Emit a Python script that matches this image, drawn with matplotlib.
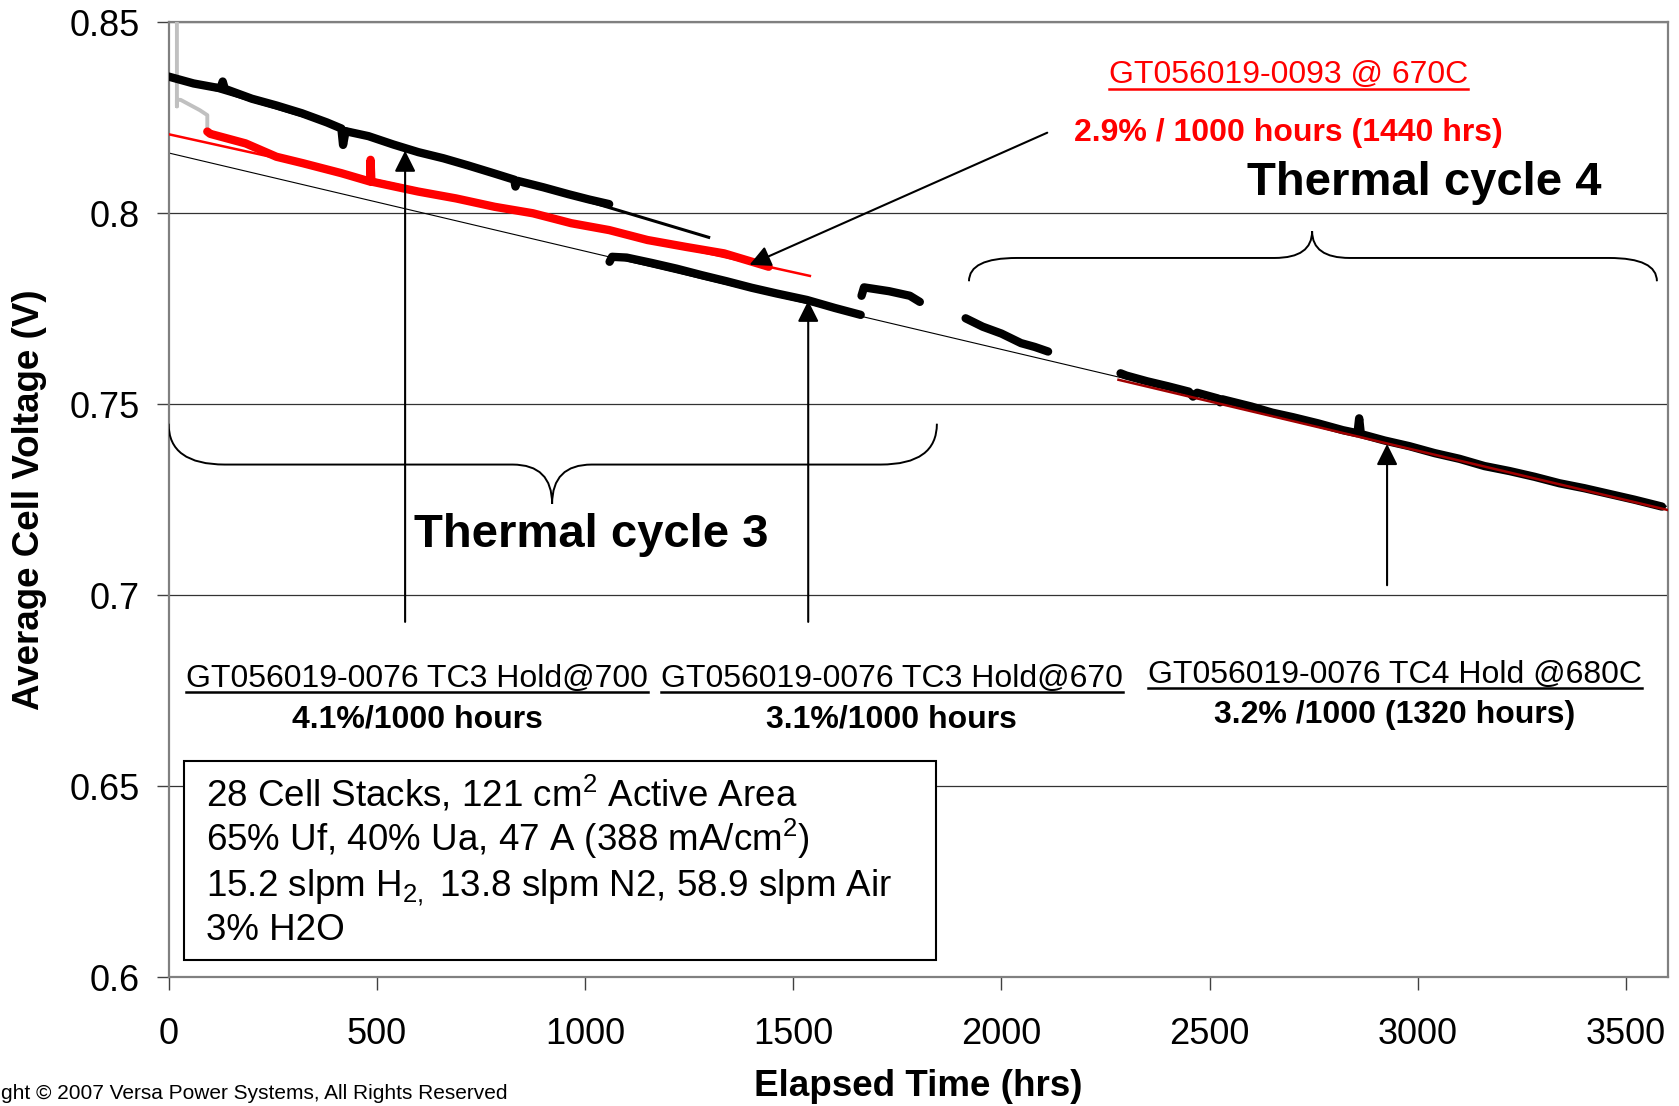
import matplotlib
matplotlib.use('Agg')
import matplotlib.pyplot as plt
from matplotlib.path import Path
from matplotlib.patches import PathPatch, Rectangle
from matplotlib.lines import Line2D

plt.rcParams['font.family'] = ['Liberation Sans', 'DejaVu Sans']
plt.rcParams['mathtext.fontset'] = 'custom'
plt.rcParams['mathtext.rm'] = 'Liberation Sans'
plt.rcParams['mathtext.it'] = 'Liberation Sans:italic'
plt.rcParams['mathtext.bf'] = 'Liberation Sans:bold'

# ---------------- data (hours, average cell voltage V) ----------------
tc3_700_t = [0, 20, 60, 110, 125, 130, 135, 200, 260, 320, 380, 415, 419, 425, 480, 540,
             600, 660, 720, 780, 830, 833, 838, 900, 960, 1010, 1058]
tc3_700_v = [0.8358, 0.8352, 0.8340, 0.8330, 0.8328, 0.8345, 0.8326, 0.8300, 0.8282, 0.8262,
             0.8238, 0.8222, 0.8179, 0.8215, 0.8202, 0.8180, 0.8160, 0.8144, 0.8125, 0.8105,
             0.8088, 0.8070, 0.8085, 0.8068, 0.8050, 0.8036, 0.8024]

tc3_670_t = [1059, 1065, 1100, 1160, 1220, 1280, 1340, 1400, 1460, 1533, 1600, 1662]
tc3_670_v = [0.7873, 0.7886, 0.7884, 0.7870, 0.7855, 0.7838, 0.7822, 0.7805, 0.7790, 0.7773,
             0.7752, 0.7734]

seg_c_t = [1664, 1670, 1730, 1780, 1804]
seg_c_v = [0.7784, 0.7806, 0.7796, 0.7784, 0.7768]

seg_d_t = [1914, 1955, 2000, 2047, 2080, 2112]
seg_d_v = [0.7725, 0.7703, 0.7685, 0.7660, 0.7650, 0.7638]

tc4_t = [2286, 2300, 2350, 2400, 2450, 2460, 2470, 2520, 2525, 2530, 2600, 2650, 2700, 2760,
         2820, 2855, 2859, 2863, 2920, 2980, 3040, 3100, 3160, 3220, 3280, 3340, 3400, 3460,
         3520, 3586]
tc4_v = [0.7581, 0.7575, 0.7560, 0.7547, 0.7533, 0.7520, 0.7530, 0.7515, 0.7505, 0.7513,
         0.7494, 0.7478, 0.7466, 0.7450, 0.7432, 0.7424, 0.7463, 0.7422, 0.7405, 0.7390,
         0.7372, 0.7357, 0.7338, 0.7325, 0.7310, 0.7293, 0.7280, 0.7265, 0.7250, 0.7232]

red_t = [93, 100, 185, 259, 323, 415, 484, 485, 487, 599, 690, 783, 875, 967, 1058, 1150,
         1242, 1334, 1441]
red_v = [0.8214, 0.8208, 0.8183, 0.8148, 0.8131, 0.8105, 0.8083, 0.8140, 0.8083, 0.8057,
         0.8039, 0.8017, 0.8000, 0.7974, 0.7956, 0.7930, 0.7912, 0.7895, 0.7860]

gray_t = [20, 20, 20, 29, 75, 93, 93]
gray_v = [0.852, 0.8280, 0.8297, 0.8297, 0.8270, 0.8257, 0.8214]

fit_a_t = [0, 1297]
fit_a_v = [0.8360, 0.7937]
fit_red_t = [0, 1540]
fit_red_v = [0.8207, 0.7836]
fit_all_t = [0, 3600]
fit_all_v = [0.8158, 0.7232]
fit_tc4_t = [2281, 3600]
fit_tc4_v = [0.7564, 0.7223]

x_ticks = [0, 500, 1000, 1500, 2000, 2500, 3000, 3500]
y_ticks = [0.6, 0.65, 0.7, 0.75, 0.8, 0.85]
y_tick_labels = ['0.6', '0.65', '0.7', '0.75', '0.8', '0.85']

box_lines = ['28 Cell Stacks, 121 cm$^2$ Active Area',
             '65% Uf, 40% Ua, 47 A (388 mA/cm$^2$)',
             '15.2 slpm H$_{2,}$ 13.8 slpm N2, 58.9 slpm Air',
             '3% H2O']

# ---------------- figure ----------------
fig = plt.figure(figsize=(16.79, 11.06), dpi=100)
ax = fig.add_axes([0.1004, 0.1166, 0.8929, 0.8632])
ax.set_xlim(0, 3600)
ax.set_ylim(0.6, 0.85)

ax.set_yticks(y_ticks)
ax.set_yticklabels(y_tick_labels)
ax.set_xticks(x_ticks)
ax.tick_params(axis='both', labelsize=26, length=9, width=1.0, color='#404040')
ax.tick_params(axis='y', pad=12)
ax.tick_params(axis='x', pad=20)
for s in ax.spines.values():
    s.set_color('#808080')
    s.set_linewidth(1.6)
ax.yaxis.grid(True, color='#333333', linewidth=0.9)
ax.set_axisbelow(True)

ax.set_xlabel('Elapsed Time (hrs)', fontsize=26.5, fontweight='bold')
ax.xaxis.set_label_coords(0.5, -0.115)
ax.xaxis.label.set_va('center')
ax.set_ylabel('Average Cell Voltage (V)', fontsize=26.5, fontweight='bold')
ax.yaxis.set_label_coords(-0.0925, 0.5)
ax.yaxis.label.set_va('center')

# lines
ax.plot(fit_all_t, fit_all_v, color='black', lw=0.8, zorder=2)
ax.plot(gray_t, gray_v, color='#c0c0c0', lw=2.8, zorder=3, solid_joinstyle='round')
kw = dict(lw=6, solid_capstyle='round', solid_joinstyle='round', zorder=4)
ax.plot(red_t, red_v, color='#ff0000', **kw)
for t, v in [(tc3_700_t, tc3_700_v), (tc3_670_t, tc3_670_v), (seg_c_t, seg_c_v),
             (seg_d_t, seg_d_v), (tc4_t, tc4_v)]:
    ax.plot(t, v, color='black', **kw)
ax.plot(fit_a_t, fit_a_v, color='black', lw=2.2, zorder=5)
ax.plot(fit_red_t, fit_red_v, color='#ff0000', lw=1.8, zorder=5)
ax.plot(fit_tc4_t, fit_tc4_v, color='#a00000', lw=1.8, zorder=5)

# vertical arrows
arrow_kw = dict(arrowstyle='-|>', mutation_scale=32, lw=1.5, color='black',
                shrinkA=0, shrinkB=0)
for x, y0, y1 in [(568, 0.6930, 0.8164), (1536, 0.6930, 0.7771), (2926, 0.7026, 0.7396)]:
    ax.annotate('', xy=(x, y1), xytext=(x, y0), arrowprops=arrow_kw, zorder=6)
ax.annotate('', xy=(1395, 0.7865), xytext=(2110, 0.8211), arrowprops=arrow_kw, zorder=6)

# braces
def brace(x0, x1, xt, y_end, y_flat, y_tip, r_end, r_tip):
    verts = [(x0, y_end), (x0, y_flat), (x0 + r_end, y_flat),
             (xt - r_tip, y_flat),
             (xt, y_flat), (xt, y_tip),
             (xt, y_flat), (xt + r_tip, y_flat),
             (x1 - r_end, y_flat),
             (x1, y_flat), (x1, y_end)]
    codes = [Path.MOVETO, Path.CURVE3, Path.CURVE3, Path.LINETO,
             Path.CURVE3, Path.CURVE3, Path.CURVE3, Path.CURVE3,
             Path.LINETO, Path.CURVE3, Path.CURVE3]
    ax.add_patch(PathPatch(Path(verts, codes), fill=False, lw=1.4, color='black', zorder=6))

brace(0, 1845, 921, 0.7449, 0.7342, 0.7239, 135, 95)
brace(1922, 3574, 2746, 0.7822, 0.7883, 0.7953, 115, 90)

# texts
texts_ul = []
t = ax.text(2689, 0.8340, 'GT056019-0093 @ 670C', color='#ff0000', fontsize=23,
            ha='center', va='baseline')
texts_ul.append((t, '#ff0000'))
ax.text(2689, 0.8189, '2.9% / 1000 hours (1440 hrs)', color='#ff0000', fontsize=23,
        fontweight='bold', ha='center', va='baseline')
ax.text(3016, 0.8049, 'Thermal cycle 4', fontsize=34, fontweight='bold', ha='center',
        va='baseline')
ax.text(1014, 0.7127, 'Thermal cycle 3', fontsize=34, fontweight='bold', ha='center',
        va='baseline')

for x, yb, lab, rate in [(597, 0.6760, 'GT056019-0076 TC3 Hold@700', '4.1%/1000 hours'),
                         (1737, 0.6760, 'GT056019-0076 TC3 Hold@670', '3.1%/1000 hours'),
                         (2944, 0.6771, 'GT056019-0076 TC4 Hold @680C',
                          '3.2% /1000 (1320 hours)')]:
    t = ax.text(x, yb, lab, fontsize=23, ha='center', va='baseline')
    texts_ul.append((t, 'black'))
    ax.text(x, yb - 0.0107, rate, fontsize=23, fontweight='bold', ha='center', va='baseline')

ax.add_patch(Rectangle((38, 0.6045), 1842 - 38, 0.6567 - 0.6045, facecolor='white',
                       edgecolor='black', lw=1.5, zorder=7))
for yb, line in zip([0.6447, 0.6329, 0.6211, 0.6096], box_lines):
    ax.text(89, yb, line, fontsize=26.5, ha='left', va='baseline', zorder=8)

fig.text(0.0005, 0.011, 'ght \u00a9 2007 Versa Power Systems, All Rights Reserved',
         fontsize=15, ha='left', va='center')

# underlines
fig.canvas.draw()
r = fig.canvas.get_renderer()
W, H = fig.bbox.width, fig.bbox.height
for t, c in texts_ul:
    bb = t.get_window_extent(renderer=r)
    y = (bb.y0 + 1.5) / H
    fig.add_artist(Line2D([bb.x0 / W, bb.x1 / W], [y, y], color=c, lw=1.8,
                          transform=fig.transFigure))

fig.savefig('out.png', dpi=100)
